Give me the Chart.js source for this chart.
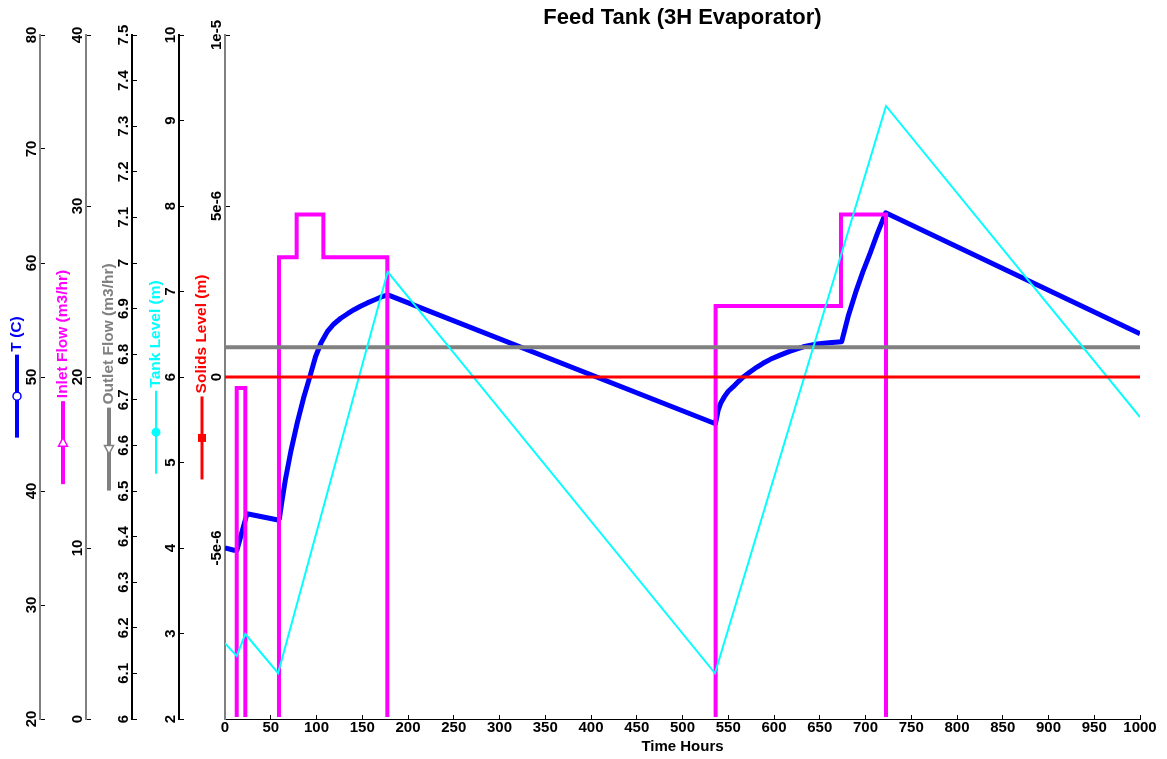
<!DOCTYPE html>
<html>
<head>
<meta charset="utf-8">
<title>Feed Tank (3H Evaporator)</title>
<script src="https://cdn.jsdelivr.net/npm/chart.js@4.4.1/dist/chart.umd.min.js"></script>
<style>
    html, body { margin: 0; padding: 0; background: #ffffff; }
    #wrap { width: 1167px; height: 759px; position: relative; }
</style>
</head>
<body>
<div id="wrap"><canvas id="feedTankChart"></canvas></div>
<script>
const FONT = '"Liberation Sans", Arial, Helvetica, sans-serif';

const chartTitle = "Feed Tank (3H Evaporator)";
const xTitle = "Time Hours";
const xTickValues = [0, 50, 100, 150, 200, 250, 300, 350, 400, 450, 500, 550, 600, 650, 700, 750, 800, 850, 900, 950, 1000];

// T (C)
const tempHours = [0, 10, 13, 24, 58, 59.5, 62, 66, 72, 79, 86, 93, 99, 105, 112, 119, 126.5, 134, 141, 148, 155.6, 163, 170, 178,
    536, 539, 542, 546, 550, 555.5, 561, 566.5, 573, 581, 588, 596, 606, 617, 632, 647, 660, 674, 681, 690, 697, 705, 713, 722, 1000];
const tempValues = [35.0, 34.8, 34.8, 38.0, 37.45, 37.6, 39.0, 41.0, 43.5, 46.0, 48.2, 50.1, 51.8, 53.0, 54.0, 54.65, 55.15, 55.55, 55.9, 56.2, 56.5, 56.75, 57.0, 57.2,
    45.9, 47.1, 47.75, 48.3, 48.75, 49.15, 49.6, 50.0, 50.4, 50.85, 51.2, 51.55, 51.9, 52.25, 52.65, 52.9, 53.0, 53.1, 55.3, 57.6, 59.2, 60.85, 62.6, 64.4, 53.8];
const tempTicks = [20, 30, 40, 50, 60, 70, 80];
const tempTickLabels = ["20", "30", "40", "50", "60", "70", "80"];

// Inlet Flow (m3/hr) - value holds from each time on
const inletHours = [0, 12.8, 22.2, 59, 78.3, 107.5, 177.4, 536.2, 673.2, 722.4, 1000];
const inletFlow = [0, 19.35, 0, 27, 29.5, 27, 0, 24.15, 29.5, 0, 0];
const inletTicks = [0, 10, 20, 30, 40];
const inletTickLabels = ["0", "10", "20", "30", "40"];

// Outlet Flow (m3/hr)
const outletHours = [0, 1000];
const outletFlow = [6.815, 6.815];
const outletTicks = [6, 6.1, 6.2, 6.3, 6.4, 6.5, 6.6, 6.7, 6.8, 6.9, 7, 7.1, 7.2, 7.3, 7.4, 7.5];
const outletTickLabels = ["6", "6.1", "6.2", "6.3", "6.4", "6.5", "6.6", "6.7", "6.8", "6.9", "7", "7.1", "7.2", "7.3", "7.4", "7.5"];

// Tank Level (m)
const tankHours = [0, 12.8, 22.2, 58, 177.8, 535.5, 722.4, 1000];
const tankLevel = [2.885, 2.737, 2.994, 2.535, 7.23, 2.535, 9.17, 5.53];
const tankTicks = [2, 3, 4, 5, 6, 7, 8, 9, 10];
const tankTickLabels = ["2", "3", "4", "5", "6", "7", "8", "9", "10"];

// Solids Level (m)
const solidsHours = [0, 1000];
const solidsLevel = [0, 0];
const solidsTicks = [-1e-5, -5e-6, 0, 5e-6, 1e-5];
const solidsTickLabels = ["", "-5e-6", "0", "5e-6", "1e-5"];

function toPoints(xs, ys) {
    return xs.map((x, i) => ({ x: x, y: ys[i] }));
}

// legend/axis decoration for each left axis
const sideAxes = [
    { id: "yTemp", label: "T (C)", color: "#0000ff", width: 4, marker: "openCircle", ticks: tempTicks, labels: tempTickLabels },
    { id: "yInlet", label: "Inlet Flow (m3/hr)", color: "#ff00ff", width: 4, marker: "openTriUp", ticks: inletTicks, labels: inletTickLabels },
    { id: "yOutlet", label: "Outlet Flow (m3/hr)", color: "#808080", width: 4, marker: "openTriDown", ticks: outletTicks, labels: outletTickLabels },
    { id: "yTank", label: "Tank Level (m)", color: "#00ffff", width: 2, marker: "dot", ticks: tankTicks, labels: tankTickLabels },
    { id: "ySolids", label: "Solids Level (m)", color: "#ff0000", width: 3, marker: "square", ticks: solidsTicks, labels: solidsTickLabels }
];

function sideScale(min, max, weight, boxWidth, borderColor, tickValues) {
    return {
        type: "linear",
        position: "left",
        min: min,
        max: max,
        weight: weight,
        afterFit: s => { s.width = boxWidth; },
        afterBuildTicks: s => { s.ticks = tickValues.map(v => ({ value: v })); },
        ticks: { display: false },
        grid: { display: true, drawOnChartArea: false, drawTicks: true, tickLength: -5, tickColor: "#000000", tickWidth: 1 },
        border: { display: true, color: borderColor, width: 2 }
    };
}

function drawMarker(ctx, kind, x, y, color) {
    ctx.save();
    ctx.lineWidth = 1.5;
    ctx.strokeStyle = color;
    ctx.fillStyle = color;
    ctx.beginPath();
    if (kind === "openCircle") {
        ctx.arc(x, y, 4, 0, Math.PI * 2);
        ctx.fillStyle = "#ffffff";
        ctx.fill();
        ctx.stroke();
    } else if (kind === "openTriUp") {
        ctx.moveTo(x, y - 5);
        ctx.lineTo(x + 4.5, y + 3.5);
        ctx.lineTo(x - 4.5, y + 3.5);
        ctx.closePath();
        ctx.fillStyle = "#ffffff";
        ctx.fill();
        ctx.stroke();
    } else if (kind === "openTriDown") {
        ctx.moveTo(x, y + 5);
        ctx.lineTo(x + 4.5, y - 3.5);
        ctx.lineTo(x - 4.5, y - 3.5);
        ctx.closePath();
        ctx.fillStyle = "#ffffff";
        ctx.fill();
        ctx.stroke();
    } else if (kind === "dot") {
        ctx.arc(x, y, 4.5, 0, Math.PI * 2);
        ctx.fill();
    } else if (kind === "square") {
        ctx.rect(x - 4, y - 4, 8, 8);
        ctx.fill();
    }
    ctx.restore();
}

const decorations = {
    id: "decorations",
    afterDraw(chart) {
        const ctx = chart.ctx;
        const area = chart.chartArea;
        const midY = (area.top + area.bottom) / 2;

        // title over the plot area
        ctx.save();
        ctx.fillStyle = "#000000";
        ctx.font = "bold 22px " + FONT;
        ctx.textAlign = "center";
        ctx.textBaseline = "middle";
        ctx.fillText(chartTitle, (area.left + area.right) / 2, 18);
        ctx.restore();

        sideAxes.forEach(ax => {
            const scale = chart.scales[ax.id];
            const axisX = scale.right;

            // rotated tick labels
            ctx.save();
            ctx.fillStyle = "#000000";
            ctx.font = "bold 15px " + FONT;
            ctx.textAlign = "center";
            ctx.textBaseline = "middle";
            ax.ticks.forEach((v, i) => {
                if (!ax.labels[i]) return;
                const py = scale.getPixelForValue(v);
                ctx.save();
                ctx.translate(axisX - 8, py);
                ctx.rotate(-Math.PI / 2);
                ctx.fillText(ax.labels[i], 0, 0);
                ctx.restore();
            });
            ctx.restore();

            // legend entry: line sample then label, read bottom to top
            const lx = axisX - 23;
            const lineLen = 83;
            const gap = 3;
            ctx.save();
            ctx.font = "bold 15.5px " + FONT;
            const textW = ctx.measureText(ax.label).width;
            const total = lineLen + gap + textW;
            const yBottom = midY + total / 2;

            ctx.strokeStyle = ax.color;
            ctx.lineWidth = ax.width;
            ctx.beginPath();
            ctx.moveTo(lx, yBottom);
            ctx.lineTo(lx, yBottom - lineLen);
            ctx.stroke();
            drawMarker(ctx, ax.marker, lx, yBottom - lineLen / 2, ax.color);

            ctx.fillStyle = ax.color;
            ctx.textAlign = "left";
            ctx.textBaseline = "middle";
            ctx.translate(lx, yBottom - lineLen - gap);
            ctx.rotate(-Math.PI / 2);
            ctx.fillText(ax.label, 0, 0);
            ctx.restore();
        });
    }
};

const ctx = document.getElementById("feedTankChart").getContext("2d");
new Chart(ctx, {
    type: "line",
    data: {
        datasets: [
            {
                label: "Solids Level (m)",
                data: toPoints(solidsHours, solidsLevel),
                yAxisID: "ySolids",
                borderColor: "#ff0000",
                borderWidth: 3,
                pointRadius: 0,
                order: 0
            },
            {
                label: "Tank Level (m)",
                data: toPoints(tankHours, tankLevel),
                yAxisID: "yTank",
                borderColor: "#00ffff",
                borderWidth: 2,
                pointRadius: 0,
                order: 1
            },
            {
                label: "Outlet Flow (m3/hr)",
                data: toPoints(outletHours, outletFlow),
                yAxisID: "yOutlet",
                borderColor: "#808080",
                borderWidth: 4,
                pointRadius: 0,
                order: 2
            },
            {
                label: "Inlet Flow (m3/hr)",
                data: toPoints(inletHours, inletFlow),
                yAxisID: "yInlet",
                borderColor: "#ff00ff",
                borderWidth: 4,
                pointRadius: 0,
                stepped: true,
                clip: { left: 5, top: 5, right: 5, bottom: -2 },
                order: 3
            },
            {
                label: "T (C)",
                data: toPoints(tempHours, tempValues),
                yAxisID: "yTemp",
                borderColor: "#0000ff",
                borderWidth: 5,
                borderJoinStyle: "round",
                pointRadius: 0,
                order: 4
            }
        ]
    },
    options: {
        responsive: true,
        maintainAspectRatio: false,
        animation: false,
        events: [],
        layout: { padding: { top: 35, right: 27, bottom: 0, left: 0 } },
        plugins: {
            legend: { display: false },
            tooltip: { enabled: false },
            title: { display: false }
        },
        scales: {
            x: {
                type: "linear",
                position: "bottom",
                min: 0,
                max: 1000,
                afterBuildTicks: s => { s.ticks = xTickValues.map(v => ({ value: v })); },
                afterFit: s => { s.height = 40; },
                ticks: {
                    autoSkip: false,
                    maxRotation: 0,
                    minRotation: 0,
                    padding: 4,
                    color: "#000000",
                    font: { family: FONT, size: 15, weight: "bold" },
                    callback: v => String(v)
                },
                grid: { display: true, drawOnChartArea: false, drawTicks: true, tickLength: -4, tickColor: "#000000" },
                border: { display: true, color: "#000000", width: 1 },
                title: {
                    display: true,
                    text: xTitle,
                    color: "#000000",
                    font: { family: FONT, size: 15, weight: "bold" },
                    padding: { top: 0, bottom: 3 }
                }
            },
            yTemp: sideScale(20, 80, 5, 40, "#808080", tempTicks),
            yInlet: sideScale(0, 40, 4, 46, "#808080", inletTicks),
            yOutlet: sideScale(6, 7.5, 3, 46, "#000000", outletTicks),
            yTank: sideScale(2, 10, 2, 47, "#000000", tankTicks),
            ySolids: sideScale(-1e-5, 1e-5, 1, 46, "#808080", solidsTicks)
        }
    },
    plugins: [decorations]
});
</script>
</body>
</html>
